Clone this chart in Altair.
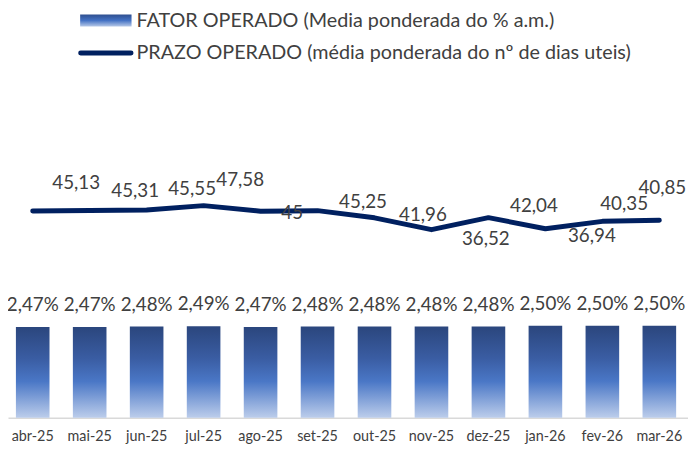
import altair as alt
import pandas as pd

# ---- data ----
months = ["abr-25", "mai-25", "jun-25", "jul-25", "ago-25", "set-25",
          "out-25", "nov-25", "dez-25", "jan-26", "fev-26", "mar-26"]
fator = [2.47, 2.47, 2.48, 2.49, 2.47, 2.48, 2.48, 2.48, 2.48, 2.50, 2.50, 2.50]
prazo = [45.13, 45.31, 45.55, 47.58, 45, 45.25, 41.96, 36.52, 42.04, 36.94, 40.35, 40.85]
legend_labels = ["FATOR OPERADO (Media ponderada do % a.m.)",
                 "PRAZO OPERADO (média ponderada do nº de dias uteis)"]

df = pd.DataFrame({
    "mes": months,
    "fator": fator,
    "prazo": prazo,
})
df["fator_lbl"] = [f"{v:.2f}%".replace(".", ",") for v in fator]
df["prazo_lbl"] = [("%g" % v).replace(".", ",") for v in prazo]

FONT = "Lato"
TXT = "#404040"
LINE = "#002060"

bar_gradient = alt.Gradient(
    gradient="linear", x1=0, x2=0, y1=0, y2=1,
    stops=[alt.GradientStop(color="#2B467D", offset=0),
           alt.GradientStop(color="#3A5DA3", offset=0.35),
           alt.GradientStop(color="#4A77C6", offset=0.6),
           alt.GradientStop(color="#BCCDEB", offset=1)])

x_enc = alt.X("mes:N", sort=months,
              scale=alt.Scale(paddingInner=0.41, paddingOuter=0.1735, align=0.4),
              axis=alt.Axis(title=None, ticks=False, labelAngle=0, labelFont=FONT,
                            labelFontSize=14.5, labelColor=TXT, labelPadding=12,
                            domainColor="#D9D9D9", domainWidth=1.5, grid=False))

y_bar = alt.Y("fator:Q", scale=alt.Scale(domain=[0, 10.914], nice=False, zero=True), axis=None)
y_line = alt.Y("prazo:Q", scale=alt.Scale(domain=[-50, 134.545], nice=False, zero=False), axis=None)

base = alt.Chart(df)

bars = base.mark_bar(color=bar_gradient).encode(x=x_enc, y=y_bar)
bar_labels = base.mark_text(font=FONT, fontSize=19, color=TXT, baseline="alphabetic",
                            dy=-16).encode(x=x_enc, y=y_bar, text="fator_lbl:N")

line = base.mark_line(color=LINE, strokeWidth=5, strokeCap="round",
                      strokeJoin="round").encode(x=x_enc, y=y_line)

# label placement offsets (layout only), as in the reference
label_offsets = {
    "abr-25": (44, -28), "mai-25": (46, -20), "jun-25": (46, -21),
    "jul-25": (37, -26), "ago-25": (32, 2), "set-25": (46, -9),
    "out-25": (49, -3), "nov-25": (55, 10), "dez-25": (46, -12),
    "jan-26": (47, 7), "fev-26": (22, -17), "mar-26": (3, -33),
}
line_labels = []
for m, (ddx, ddy) in label_offsets.items():
    line_labels.append(
        base.transform_filter(alt.datum.mes == m)
        .mark_text(font=FONT, fontSize=19, color=TXT, baseline="middle", dx=ddx, dy=ddy)
        .encode(x=x_enc, y=y_line, text="prazo_lbl:N")
    )

one = alt.Chart(pd.DataFrame({"k": [0]}))
leg_grad = alt.Gradient(
    gradient="linear", x1=0, x2=0, y1=0, y2=1,
    stops=[alt.GradientStop(color="#2F4F8F", offset=0),
           alt.GradientStop(color="#4472C4", offset=0.5),
           alt.GradientStop(color="#B4C7E7", offset=1)])
leg_rect = one.mark_rect(color=leg_grad).encode(
    x=alt.value(73), x2=alt.value(125), y=alt.value(-2), y2=alt.value(10))
leg_line = one.mark_rule(color=LINE, strokeWidth=5, strokeCap="round").encode(
    x=alt.value(73.5), x2=alt.value(124.5), y=alt.value(37))
leg_t1 = one.mark_text(font=FONT, fontSize=20, color=TXT, align="left", baseline="middle").encode(
    x=alt.value(130), y=alt.value(5), text=alt.value(legend_labels[0]))
leg_t2 = one.mark_text(font=FONT, fontSize=20, color=TXT, align="left", baseline="middle").encode(
    x=alt.value(130), y=alt.value(37), text=alt.value(legend_labels[1]))

chart = alt.layer(
    bars, bar_labels, line, *line_labels, leg_rect, leg_line, leg_t1, leg_t2
).resolve_scale(y="independent").properties(
    width=688, height=406,
    padding={"left": 0, "top": 6, "right": 0, "bottom": 31},
    autosize=alt.AutoSizeParams(type="none"),
).configure_view(stroke=None)

chart.save("out.html", embed_options={"renderer": "svg", "actions": False})
